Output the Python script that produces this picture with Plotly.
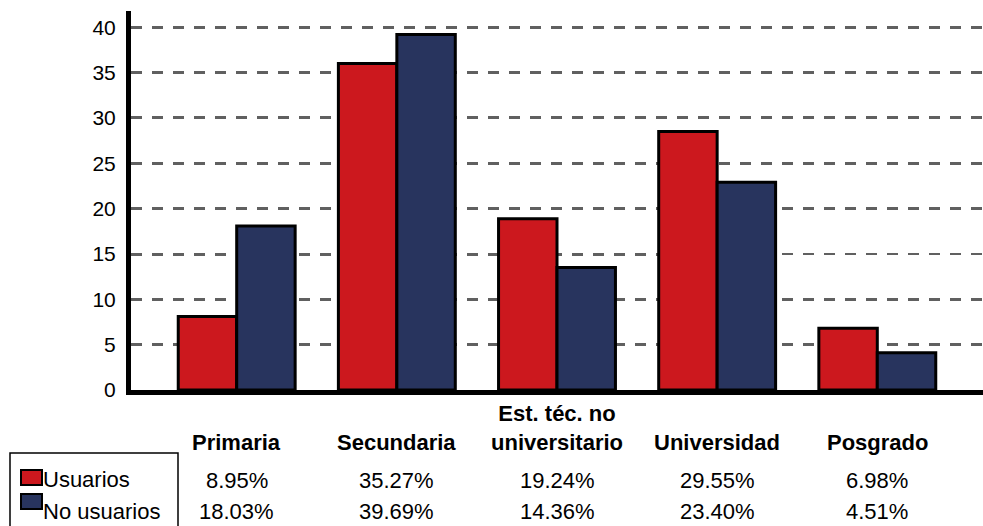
import plotly.graph_objects as go

# Education level categories
categories = ["Primaria", "Secundaria", "Est. téc. no<br>universitario", "Universidad", "Posgrado"]

# Bar heights as drawn in the chart
usuarios = [8.1, 36.0, 18.9, 28.5, 6.8]
no_usuarios = [18.1, 39.2, 13.5, 22.9, 4.1]

# Values printed in the data table under the chart
usuarios_pct = ["8.95%", "35.27%", "19.24%", "29.55%", "6.98%"]
no_usuarios_pct = ["18.03%", "39.69%", "14.36%", "23.40%", "4.51%"]

series_names = ["Usuarios", "No usuarios"]
red = "#CC181E"
navy = "#28345E"

W, H = 983, 526
L, T, B = 131, 11, 136
plot_w = W - L
plot_h = H - T - B


def py(y):
    # pixel row -> paper y
    return (H - B - y) / plot_h


def px(x):
    # pixel column -> paper x
    return (x - L) / plot_w


x_idx = list(range(len(categories)))

fig = go.Figure()
fig.add_trace(go.Bar(x=x_idx, y=usuarios, name=series_names[0],
                     marker=dict(color=red, line=dict(color="black", width=3))))
fig.add_trace(go.Bar(x=x_idx, y=no_usuarios, name=series_names[1],
                     marker=dict(color=navy, line=dict(color="black", width=3))))

font = dict(family="Liberation Sans, Arial, sans-serif", size=22, color="black")
tick_font = dict(family="Liberation Sans, Arial, sans-serif", size=21, color="black")

annotations = []
for i, cat in enumerate(categories):
    annotations.append(dict(x=i, y=py(457), xref="x", yref="paper", text="<b>" + cat + "</b>",
                            showarrow=False, xanchor="center", yanchor="bottom", font=font))
    annotations.append(dict(x=i, y=py(480), xref="x", yref="paper", text=usuarios_pct[i],
                            showarrow=False, xanchor="center", yanchor="middle", font=font))
    annotations.append(dict(x=i, y=py(512), xref="x", yref="paper", text=no_usuarios_pct[i],
                            showarrow=False, xanchor="center", yanchor="middle", font=font))

# legend rows drawn by hand, as in the original table
annotations.append(dict(x=px(41), y=py(479), xref="paper", yref="paper", text=series_names[0],
                        showarrow=False, xanchor="left", yanchor="middle", font=font))
annotations.append(dict(x=px(41), y=py(511), xref="paper", yref="paper", text=series_names[1],
                        showarrow=False, xanchor="left", yanchor="middle", font=font))

shapes = [
    dict(type="rect", xref="paper", yref="paper", x0=px(10), x1=px(178), y0=py(453), y1=py(540),
         line=dict(color="black", width=1.5), fillcolor="rgba(0,0,0,0)"),
    dict(type="rect", xref="paper", yref="paper", x0=px(21), x1=px(42), y0=py(470), y1=py(485),
         line=dict(color="black", width=2), fillcolor=red),
    dict(type="rect", xref="paper", yref="paper", x0=px(21), x1=px(42), y0=py(494), y1=py(509),
         line=dict(color="black", width=2), fillcolor=navy),
]

fig.update_layout(
    width=W, height=H,
    margin=dict(l=L, r=0, t=T, b=B),
    barmode="group", bargap=0.27, bargroupgap=0,
    plot_bgcolor="white", paper_bgcolor="white",
    showlegend=False,
    font=font,
    annotations=annotations,
    shapes=shapes,
)
# category centres sit about 160 px apart, the first one 110 px right of the y axis
fig.update_xaxes(range=[-0.66, 4.66], showticklabels=False, showgrid=False, zeroline=False,
                 showline=True, linecolor="black", linewidth=5, ticks="")
fig.update_yaxes(range=[0, 41.8], tickvals=[0, 5, 10, 15, 20, 25, 30, 35, 40],
                 showgrid=True, gridcolor="#606060", gridwidth=2.5, griddash="11px,10px",
                 zeroline=False, showline=True, linecolor="black", linewidth=5, ticks="",
                 tickfont=tick_font, ticklabelstandoff=6)

# drop the default page margin so the figure sits at the top-left corner
fig.write_html("out.html", config={"displayModeBar": False},
               post_script="document.body.style.margin='0';")
